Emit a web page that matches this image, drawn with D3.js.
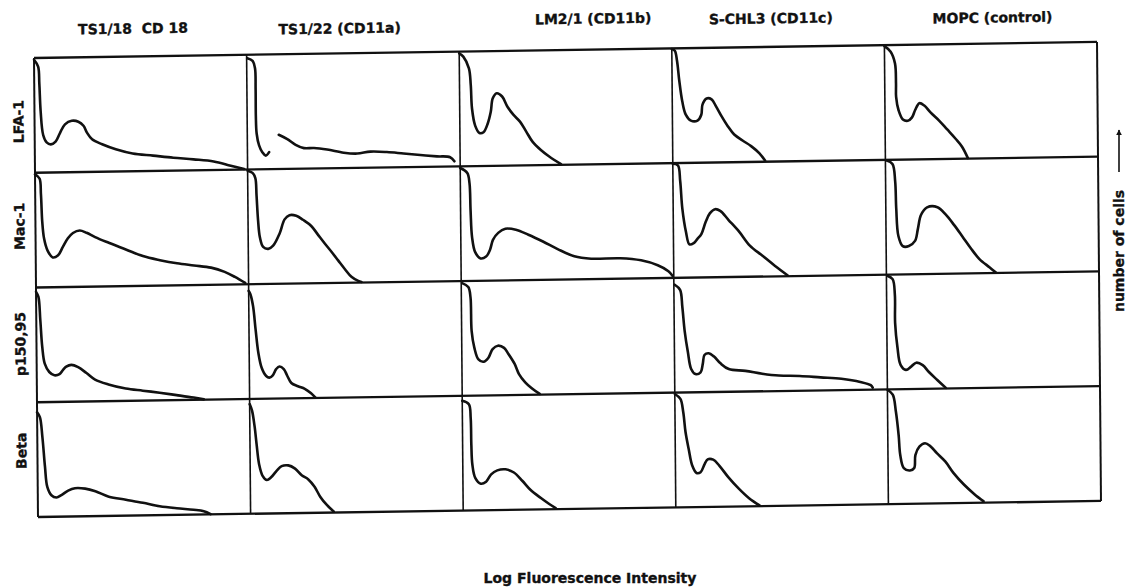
<!DOCTYPE html>
<html>
<head>
<meta charset="utf-8">
<script src="https://cdn.jsdelivr.net/npm/d3@7"></script>
<style>
body { margin: 0; background: #fff; }
svg text { font-family: "DejaVu Sans", sans-serif; font-weight: bold; fill: #111; stroke: #111; stroke-width: 0.35px; }
</style>
</head>
<body>
<svg id="chart" width="1127" height="588"></svg>
<script>
var antibodies = ["TS1/18  CD 18", "TS1/22 (CD11a)", "LM2/1 (CD11b)", "S-CHL3 (CD11c)", "MOPC (control)"];
var antigens = ["LFA-1", "Mac-1", "p150,95", "Beta"];
var xTitle = "Log Fluorescence Intensity";
var yTitle = "number of cells";

// histogram outlines: [channel %, cells %] inside each panel
// null = the pen was lifted
var lfa1 = [
  [[0,98.5],[1.9,92.5],[2.4,77.6],[2.9,53.7],[4,32.8],[5.6,26.3],[7.6,24.5],[9.8,26.9],[11.9,34.3],[14.3,41.8],[17.5,44.8],[20.6,43.9],[23,40.3],[24.6,34.3],[27,28.4],[31.7,23.9],[38.1,19.4],[46,15.5],[55.6,13.4],[65.1,11.3],[74.6,9.6],[84.1,7.5],[92.1,3.6],[98.4,0.6]],
  [[0.3,97],[2.8,94.6],[3.9,88.1],[4.1,70.1],[4.1,46.3],[4.4,31.3],[5.5,20.9],[7,14.9],[8.6,11.9],[10.2,14.9], null,
   [14.8,29.9],[18.8,26],[22.7,20.9],[26.6,17.9],[31.3,17.9],[37.5,16.4],[45.3,13.4],[51.6,12.5],[57.8,14],[65.6,13.4],[73.4,11.9],[81.3,10.4],[89.1,9],[95.3,8.1],[97.3,4.5]],
  [[0,98.5],[1.9,95.6],[4.5,85.3],[5.3,70.6],[5.8,50],[7.2,35.3],[9.2,28.8],[11.1,29.4],[13.1,36.8],[14.6,47.1],[15.6,58.8],[17.5,63.2],[20,60.3],[22.4,51.5],[25.3,44.1],[28.3,38.2],[31.2,29.4],[34.1,20.6],[38,13.2],[41.9,7.4],[47.4,0.6]],
  [[0,99.4],[1.4,97.9],[2.4,89.1],[3.4,71.5],[4.7,53.8],[6.3,42.1],[8.7,36.8],[11.8,36.8],[13.6,41.8],[14.2,50.6],[16.2,55.9],[18.5,55],[20.5,49.1],[23.1,40.3],[26,31.5],[29,24.1],[32.9,18.8],[36.9,13.8],[40.8,7.4],[43.4,1]],
  [[0,99.1],[2.9,94.2],[4.9,84],[5.3,66.5],[5.3,54.8],[6.4,43.1],[8.4,35],[10.7,33.8],[12.7,36.7],[14.2,43.1],[16.2,49],[18.5,46.9],[21.4,40.8],[25.3,33.8],[29.2,25.7],[33.1,17.5],[36.1,10.5],[38.8,0.5]]
];
var mac1 = [
  [[0,98.5],[2.1,94.9],[2.7,81.4],[3.2,57.5],[4,42.5],[5.6,32],[8,26],[10.4,27.5],[12.8,35],[15.2,42.5],[17.6,47],[20.8,49.1],[24,47],[28,43.1],[34.4,38],[42.4,32],[50.4,26],[58.4,22.2],[66.4,19.2],[74.4,17.1],[82.4,15],[88.8,11.1],[93.6,6.6],[98.4,1.2]],
  [[0,99],[2.3,97],[3.6,92.4],[4.1,77.3],[4.7,56.1],[5.5,40.9],[7,32.4],[9.4,30.6],[11.7,33.3],[14.8,43.9],[17.2,56.1],[19.5,59.7],[22.7,59.1],[25.8,55.5],[29.7,50],[32.8,42.4],[35.9,34.8],[39.1,27.3],[42.2,19.7],[45.3,12.1],[48.4,5.2],[51.6,1.5],[53.1,0.6]],
  [[0,98.5],[3.3,94.1],[4.3,85.2],[4.7,61.5],[5.3,38],[6.7,25],[9.2,19.5],[11.8,21],[13.7,27],[15.1,35.5],[17.6,41.5],[21,45],[25.9,44],[31.8,39.5],[38.6,33.4],[45.5,26.6],[53.3,20.1],[61.2,17.8],[74.9,17.8],[84.7,15.7],[92.5,11.2],[97.5,5.9],[99.4,1.8]],
  [[0,99.4],[2.4,97.9],[3.4,84.3],[4.3,60.2],[5.9,40],[7.5,29],[9.5,30],[11.2,33.5],[13.2,38],[15.2,48.2],[17.2,55.7],[19.7,59.3],[22.1,57.8],[26,49.7],[31,39.2],[35.9,27.1],[41.8,18.1],[47.7,9],[53.6,0.6]],
  [[0.6,99.4],[3.3,96.4],[4.5,81.4],[4.9,57.5],[5.8,33.5],[7.8,24.6],[10.7,24.6],[13.6,29],[15,39.5],[16.5,51.5],[19.4,58.1],[24.3,58.1],[28.2,51.5],[32,42.5],[35.9,32.3],[39.8,21.9],[43.7,12.6],[48.5,5.1],[51.5,0.5]]
];
var p15095 = [
  [[0,96.2],[1.1,91.8],[1.9,71.4],[2.7,48.1],[3.8,33.5],[5.9,26.2],[8.3,23.3],[10.7,24.2],[12.3,27.7],[13.9,30.6],[16.3,32.1],[19.5,30],[23.4,24.8],[27.4,19],[33.7,14.6],[41.8,10.8],[49.8,8.7],[57.7,6.7],[65.7,4.4],[73.7,2],[78.5,0.3]],
  [[0,94.2],[0.8,91.3],[2,81],[3.1,60.6],[4.3,40.2],[5.8,27.1],[7.9,19.8],[9.4,18.4],[11,20.4],[12.6,25.7],[14.2,28],[16.2,25.7],[17.8,19.8],[19.7,13.4],[22.8,10.5],[26,8.2],[28.8,4.4],[31,0.3]],
  [[0.4,98.2],[3.3,94.7],[4.3,85.9],[4.7,56.5],[5.9,41.8],[7.8,31.5],[10.2,29.4],[12.5,32.9],[14.5,40.3],[17,43.2],[19.9,41.2],[21.9,35.9],[24.8,27.1],[26.8,18.2],[29.7,10.9],[32.6,5.9],[36.5,0.6]],
  [[0.4,94],[2.9,89.5],[3.9,74.5],[4.9,53.5],[6.3,35.4],[7.8,20.4],[9.8,15.9],[12.2,17.4],[13.3,24.9],[14.1,32.4],[16.1,33.9],[18.6,30.9],[21.6,24.9],[25.5,19.8],[33.3,18],[41.2,15.3],[49,13.5],[58.8,12.9],[68.6,11.4],[78.4,9.9],[87.3,6.9],[92.2,3.9],[93.1,1.8]],
  [[0.4,99.1],[2.9,96],[3.9,82.3],[3.9,57.9],[4.9,36.6],[6.3,21.3],[8.8,16.8],[11.4,19.8],[13.7,22.9],[16.7,20.7],[19.6,14.6],[23.5,7.6],[27.5,0.6]]
];
var beta = [
  [[0,91.3],[1.3,87],[2.4,69.6],[3.5,43.5],[4.5,26.1],[6.4,18.8],[8.8,16.8],[11.1,18.8],[14.3,22.6],[17.5,24.6],[22.3,24.1],[27.1,21.7],[33.4,16.8],[41.4,13.9],[49.4,11],[57.3,7.8],[65.3,5.8],[73.2,4.3],[78,2.9],[81.2,0.3]],
  [[0,95.6],[1.1,89.8],[2.3,75.2],[3.1,60.6],[4.2,43.1],[5.8,32.9],[7.8,29.2],[9.8,31.5],[12.5,37.3],[14.8,41.1],[17.9,41.7],[21.1,38.8],[24.2,32.9],[27.3,29.2],[30.2,22.7],[32.8,14],[35.9,6.7],[39.1,0.9]],
  [[0,95.7],[3.1,92.6],[3.9,80.5],[4.1,57.4],[4.5,40],[5.8,28.4],[8.4,23.2],[10.9,24.9],[13.3,31.2],[16.2,34.6],[20.1,35.4],[24,32.5],[27.9,25.2],[31.8,17],[36.6,9.9],[40.5,4.6],[43.5,0.9]],
  [[0,98.8],[2.6,94.5],[3.9,82.8],[4.9,65.3],[6.3,50.7],[7.9,36.2],[9.9,29.7],[11.8,30.3],[13.8,37.6],[15.2,41.4],[17.8,41.1],[20.7,35.6],[24.7,25.9],[29.6,15.7],[34.5,7],[39.4,0.6]],
  [[0,99.7],[2.5,95.3],[3.9,80.6],[5.1,60],[5.8,42.4],[7.4,31.2],[10.3,29.1],[12.3,31.2],[12.9,42.4],[14.8,49.7],[17.5,52.6],[20.1,49.7],[23,43.8],[26.9,36.5],[30.8,26.2],[35.7,15.9],[40.5,7.6],[44.8,1.2]]
];
var histograms = [lfa1, mac1, p15095, beta];

// layout (the scan is a little crooked, so the grid gets a slight skew)
var gridW = 1063, gridH = 459;
var titleShift = [-7, -13, 28, -7, 2];
var titleY = [-23, -20, -26, -23.5, -21];
var labelShift = [6, -4, -1, -9];

var svg = d3.select("#chart");
var ink = "#111";

var grid = svg.append("g")
  .attr("transform", "matrix(1,-0.0151,0.0087,1,34,58)");

var colScale = d3.scaleBand().domain(antibodies).range([0, gridW]);
var rowScale = d3.scaleBand().domain(antigens).range([0, gridH]);
var bw = colScale.bandwidth(), bh = rowScale.bandwidth();

var xs = d3.scaleLinear().domain([0, 100]).range([0, bw]);
var ys = d3.scaleLinear().domain([0, 100]).range([bh, 0]);

var line = d3.line()
  .defined(function(d) { return d !== null; })
  .x(function(d) { return xs(d[0]); })
  .y(function(d) { return ys(d[1]); })
  .curve(d3.curveCatmullRom.alpha(0.5));

// panels
antigens.forEach(function(ag, r) {
  antibodies.forEach(function(ab, c) {
    var panel = grid.append("g")
      .attr("transform", "translate(" + colScale(ab) + "," + rowScale(ag) + ")");
    panel.append("path")
      .attr("d", line(histograms[r][c]))
      .attr("fill", "none")
      .attr("stroke", ink)
      .attr("stroke-width", 2.6)
      .attr("stroke-linejoin", "round")
      .attr("stroke-linecap", "round");
  });
});

// grid lines
var hLines = antigens.map(function(d) { return rowScale(d); }).concat([gridH]);
var vLines = antibodies.map(function(d) { return colScale(d); }).concat([gridW]);

grid.selectAll(".hl")
  .data(hLines)
  .enter().append("line")
  .attr("x1", 0).attr("x2", gridW)
  .attr("y1", function(d) { return d; })
  .attr("y2", function(d) { return d; })
  .attr("stroke", ink)
  .attr("stroke-width", 2.3);

grid.selectAll(".vl")
  .data(vLines)
  .enter().append("line")
  .attr("y1", 0).attr("y2", gridH)
  .attr("x1", function(d) { return d; })
  .attr("x2", function(d) { return d; })
  .attr("stroke", ink)
  .attr("stroke-width", function(d, i) { return (i == 0 || i == vLines.length - 1) ? 2 : 1.6; });

// column titles
grid.selectAll(".title")
  .data(antibodies)
  .enter().append("text")
  .attr("x", function(d, i) { return colScale(d) + bw / 2 + titleShift[i]; })
  .attr("y", function(d, i) { return titleY[i]; })
  .attr("text-anchor", "middle")
  .style("font-size", "14px")
  .style("white-space", "pre")
  .text(function(d) { return d; });

// row labels
grid.selectAll(".rowlab")
  .data(antigens)
  .enter().append("text")
  .attr("transform", function(d, i) {
    return "translate(-11," + (rowScale(d) + bh / 2 + labelShift[i]) + ") rotate(-90)";
  })
  .attr("text-anchor", "middle")
  .style("font-size", "14px")
  .text(function(d) { return d; });

// axis titles
svg.append("text")
  .attr("x", 590)
  .attr("y", 583)
  .attr("text-anchor", "middle")
  .style("font-size", "14px")
  .text(xTitle);

svg.append("text")
  .attr("transform", "translate(1124,251) rotate(-90)")
  .attr("text-anchor", "middle")
  .style("font-size", "14px")
  .text(yTitle);

svg.append("defs").append("marker")
  .attr("id", "head")
  .attr("viewBox", "0 0 10 10")
  .attr("refX", 9).attr("refY", 5)
  .attr("markerWidth", 6).attr("markerHeight", 6)
  .attr("markerUnits", "userSpaceOnUse")
  .attr("orient", "auto")
  .append("path")
  .attr("d", "M0,0 L10,5 L0,10 z")
  .attr("fill", ink);

svg.append("line")
  .attr("x1", 1119).attr("x2", 1119)
  .attr("y1", 172).attr("y2", 130)
  .attr("stroke", ink)
  .attr("stroke-width", 1.6)
  .attr("marker-end", "url(#head)");
</script>
</body>
</html>
